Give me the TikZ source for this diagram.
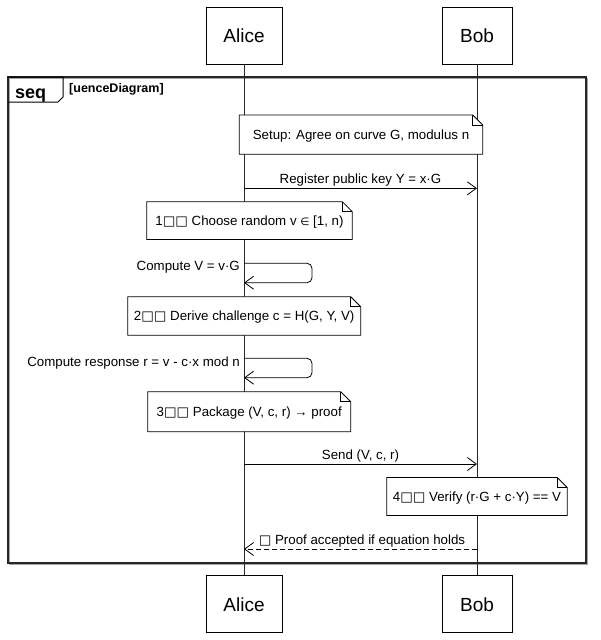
\documentclass[tikz,border=0pt]{standalone}
\usepackage{fontspec}
\setmainfont{Liberation Sans}
\newfontfamily\dvfont{DejaVu Sans}
\usetikzlibrary{arrows.meta}
\newcommand{\kbx}{{\dvfont □}}
\newcommand{\elemof}{{\dvfont\fontsize{10.5}{12}\selectfont ∈}}
\newcommand{\notebox}[6]{%
  \path[notefill] (#2,#3) -- ({#4-10},#3) -- (#4,{#3+10}) -- (#4,#5) -- (#2,#5) -- cycle;
  \draw[notefold] ({#4-10},#3) -- ({#4-10},{#3+10}) -- (#4,{#3+10});
  \node[lbl] (#1) at ({(#2+#4)/2},{(#3+#5)/2}) {#6};}
\begin{document}
\begin{tikzpicture}[x=1pt,y=-1pt,
  participant/.style={draw=black, line width=0.8pt, fill=white, font=\fontsize{19}{22}\selectfont, minimum height=57pt, inner sep=0pt},
  lbl/.style={font=\fontsize{13.3}{15}\selectfont, inner sep=0pt, text height=9.5pt, text depth=0pt},
  msg/.style={draw=black, line width=0.8pt, -{Straight Barb[length=9pt,width=13pt]}},
  ret/.style={msg, dash pattern=on 5pt off 3pt},
  life/.style={draw=black!85, line width=0.8pt},
  notefill/.style={draw=black, line width=0.8pt, fill=white},
  notefold/.style={draw=black, line width=0.8pt},
  framebox/.style={draw=black!85, line width=1.5pt},
  frameshadow/.style={draw=black!35, line width=1.2pt}
]
\useasboundingbox (0,0) rectangle (600,640);

% frame
\draw[frameshadow] (9.5,78.5) rectangle (587.5,564.5);
\draw[framebox] (8,77) rectangle (586,563);
\draw[line width=1pt] (8,77) -- (63,77) -- (63,97) -- (58,102) -- (8,102);
\node[anchor=base west, inner sep=0pt, font=\bfseries\fontsize{18}{20}\selectfont] (seqlbl) at (15,98) {seq};
\node[anchor=base west, inner sep=0pt, font=\bfseries\fontsize{12.5}{14}\selectfont] (seqname) at (69,92) {[uenceDiagram]};

% participants
\node[participant, minimum width=76pt] (aliceTop) at (244,35.5) {Alice};
\node[participant, minimum width=70pt] (bobTop) at (477,35.5) {Bob};
\node[participant, minimum width=76pt] (aliceBot) at (244,604.3) {Alice};
\node[participant, minimum width=70pt] (bobBot) at (477,604.3) {Bob};
\draw[life] (aliceTop.south) -- (aliceBot.north);
\draw[life] (bobTop.south) -- (bobBot.north);

% notes
\notebox{setup}{239.3}{115}{482.7}{154.3}{Setup: Agree on curve G, modulus n}
\notebox{note1}{146.7}{201.7}{352.3}{239.5}{1\kbx\kbx\ Choose random v \elemof\ [1, n)}
\notebox{note2}{127.7}{296.7}{360.7}{335.3}{2\kbx\kbx\ Derive challenge c = H(G, Y, V)}
\notebox{note3}{147.7}{391.7}{350.7}{431.7}{3\kbx\kbx\ Package (V, c, r) → proof}
\notebox{note4}{386.7}{477.5}{567.3}{515.5}{4\kbx\kbx\ Verify (r·G + c·Y) == V}

% message anchors
\coordinate (a1) at (244,188.3);
\coordinate (b1) at (477,188.3);
\coordinate (s1a) at (244,263.3);
\coordinate (s1b) at (244,282.7);
\coordinate (s2a) at (244,358.3);
\coordinate (s2b) at (244,377.7);
\coordinate (a2) at (244,464);
\coordinate (b2) at (477,464);
\coordinate (b3) at (477,549);
\coordinate (a3) at (244,549);

% messages
\draw[msg] (a1) -- (b1);
\node[lbl] (m1) at (360.5,178.7) {Register public key Y = x·G};

\draw[msg, rounded corners=5pt] (s1a) -- ++(68,0) |- (s1b);
\node[lbl, anchor=east] (m2) at (240,265.3) {Compute V = v·G};

\draw[msg, rounded corners=5pt] (s2a) -- ++(68,0) |- (s2b);
\node[lbl, anchor=east] (m3) at (240,362) {Compute response r = v - c·x mod n};

\draw[msg] (a2) -- (b2);
\node[lbl] (m4) at (360.5,454.5) {Send (V, c, r)};

\draw[ret] (b3) -- (a3);
\node[lbl] (m5) at (362,540) {\kbx\ Proof accepted if equation holds};
\end{tikzpicture}
\end{document}
